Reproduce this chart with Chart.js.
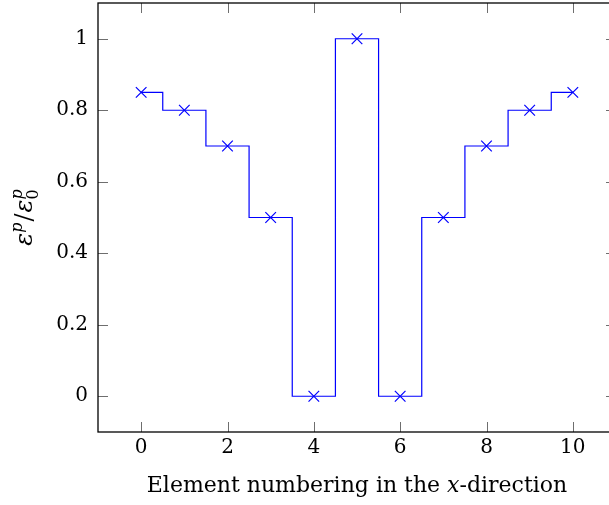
<!DOCTYPE html>
<html><head><meta charset="utf-8">
<script src="https://cdn.jsdelivr.net/npm/chart.js@4/dist/chart.umd.min.js"></script>
<style>html,body{margin:0;padding:0;overflow:hidden;background:#fff;}canvas{display:block;}</style>
</head><body>
<canvas id="c" width="620" height="505"></canvas>
<script>
const elements = [0,1,2,3,4,5,6,7,8,9,10];
const strainRatio = [0.85,0.8,0.7,0.5,0,1,0,0.5,0.7,0.8,0.85];
const xTicks = [0,2,4,6,8,10];
const yTicks = [0,0.2,0.4,0.6,0.8,1];
const yTickLabels = ['0','0.2','0.4','0.6','0.8','1'];
const xTitleParts = [['Element numbering in the ',false],['x',true],['-direction',false]];

const FONT = '"DejaVu Serif", "Liberation Serif", serif';
const FS = 20;
const TFS = 22;

const framePlugin = {
  id:'frame',
  afterDraw(chart){
    const {ctx, chartArea:a, scales} = chart;
    ctx.save();
    ctx.strokeStyle = '#6e6e6e'; ctx.lineWidth = 1;
    const TL = 10;
    ctx.beginPath();
    xTicks.forEach(v=>{
      const px = Math.round(scales.x.getPixelForValue(v))+0.5;
      ctx.moveTo(px,a.bottom); ctx.lineTo(px,a.bottom-TL);
      ctx.moveTo(px,a.top); ctx.lineTo(px,a.top+TL);
    });
    yTicks.forEach(v=>{
      const py = Math.round(scales.y.getPixelForValue(v))+0.5;
      ctx.moveTo(a.left,py); ctx.lineTo(a.left+TL,py);
      ctx.moveTo(a.right,py); ctx.lineTo(a.right-TL,py);
    });
    ctx.stroke();
    ctx.strokeStyle = '#000'; ctx.lineWidth = 1.3;
    ctx.strokeRect(a.left, a.top, a.right-a.left, a.bottom-a.top);
    // x title
    ctx.fillStyle = '#000'; ctx.textBaseline = 'alphabetic';
    let total = 0;
    xTitleParts.forEach(([t,it])=>{ctx.font=(it?'italic ':'')+TFS+'px '+FONT; total+=ctx.measureText(t).width;});
    let x = (a.left+a.right)/2 - total/2;
    const yb = 492;
    xTitleParts.forEach(([t,it])=>{ctx.font=(it?'italic ':'')+TFS+'px '+FONT; ctx.fillText(t,x,yb); x+=ctx.measureText(t).width;});
    // y title
    ctx.translate(32, (a.top+a.bottom)/2);
    ctx.rotate(-Math.PI/2);
    const big = 'italic 24px '+FONT, sm = 'italic 16px '+FONT, smU = '16px '+FONT, nrm = '24px '+FONT;
    const pieces = [
      {t:'ε',f:big,dy:0},{t:'p',f:sm,dy:-10},{t:'/',f:nrm,dy:0,pad:1},{t:'ε',f:big,dy:0},{t:'p',f:sm,dy:-10,stack:true}
    ];
    let w=0; const widths=[];
    pieces.forEach(p=>{ctx.font=p.f; const ww=ctx.measureText(p.t).width+(p.pad||0)*2; widths.push(ww); w+=ww;});
    let cx = -w/2;
    pieces.forEach((p,i)=>{
      ctx.font=p.f;
      ctx.fillText(p.t, cx+(p.pad||0), p.dy);
      if(p.stack){ ctx.font=smU; ctx.fillText('0', cx, 6); }
      cx += widths[i];
    });
    ctx.restore();
  }
};

new Chart(document.getElementById('c'),{
  type:'line',
  data:{datasets:[{
    data: elements.map((e,i)=>({x:e,y:strainRatio[i]})),
    stepped:'middle',
    borderColor:'#0000ff', borderWidth:1.2,
    pointStyle:'crossRot', pointRadius:7.5, pointBorderColor:'#0000ff', pointBorderWidth:1.2,
    pointBackgroundColor:'#0000ff', fill:false, clip:false
  }]},
  options:{
    responsive:false, animation:false, devicePixelRatio:1,
    layout:{autoPadding:false, padding:{top:3,right:4,left:0,bottom:0}},
    plugins:{legend:{display:false},tooltip:{enabled:false}},
    scales:{
      x:{type:'linear',min:-1,max:11,
        afterBuildTicks(s){s.ticks = xTicks.map(v=>({value:v}));},
        afterFit(s){s.height = 73; s.paddingLeft=0; s.paddingRight=0;},
        grid:{display:false, drawTicks:false, tickLength:0}, border:{display:false},
        ticks:{font:{family:FONT,size:FS},color:'#000',padding:4,maxRotation:0,callback:(v)=>String(v)}
      },
      y:{type:'linear',min:-0.1,max:1.1,
        afterBuildTicks(s){s.ticks = yTicks.map(v=>({value:v}));},
        afterFit(s){s.width = 98; s.paddingTop=0; s.paddingBottom=0;},
        grid:{display:false, drawTicks:false, tickLength:0}, border:{display:false},
        ticks:{font:{family:FONT,size:FS},color:'#000',padding:10,callback:(v)=>yTickLabels[yTicks.indexOf(v)]}
      }
    }
  },
  plugins:[framePlugin]
});
</script>
</body></html>
